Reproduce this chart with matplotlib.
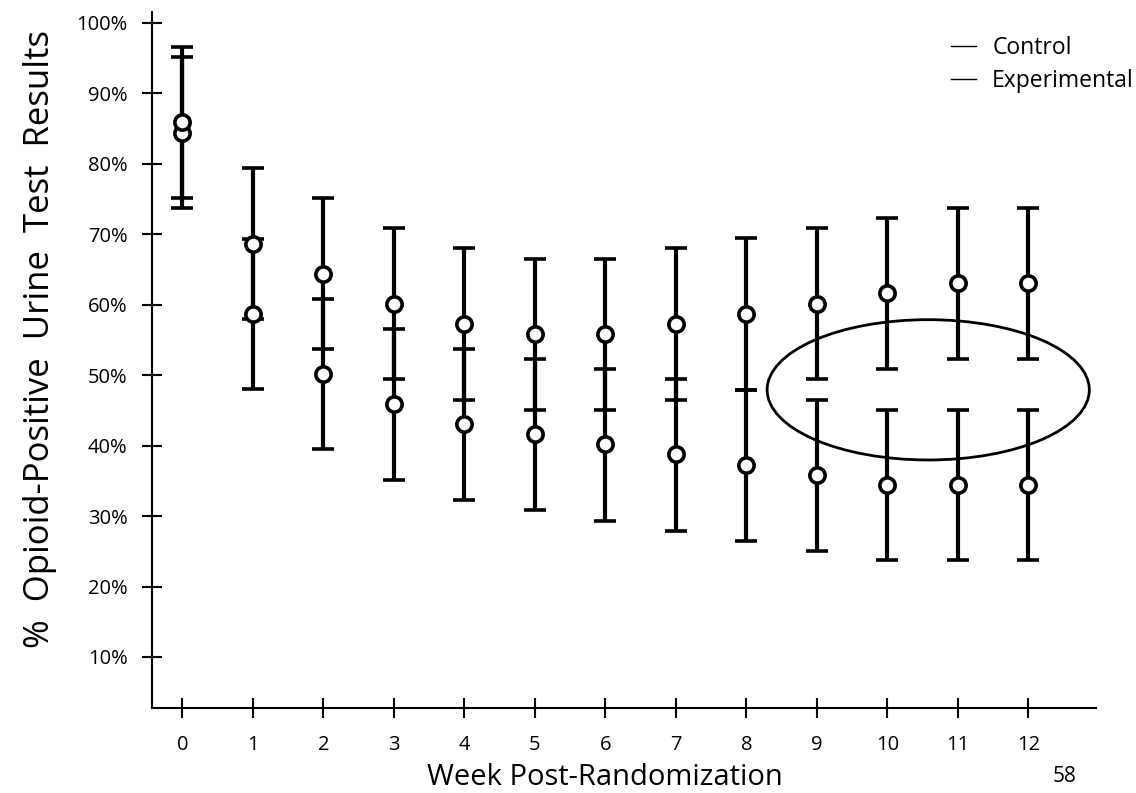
import numpy as np
import matplotlib
matplotlib.use("Agg")
import matplotlib.pyplot as plt
from matplotlib.lines import Line2D
from matplotlib.patches import Ellipse

plt.rcParams['font.family'] = ['Open Sans', 'DejaVu Sans']

weeks = np.arange(13)
week_labels = [str(w) for w in weeks]

# control group (upper series in later weeks)
control = [84.4, 68.6, 64.4, 60.1, 57.3, 55.8, 55.8, 57.3, 58.7, 60.1, 61.6, 63.0, 63.0]
control_lo = [73.7, 58.0, 53.7, 49.4, 46.5, 45.0, 45.0, 46.5, 47.9, 49.4, 50.9, 52.3, 52.3]
control_hi = [95.1, 79.3, 75.1, 70.8, 68.0, 66.5, 66.5, 68.0, 69.4, 70.8, 72.3, 73.7, 73.7]

# experimental group
experimental = [85.9, 58.7, 50.2, 45.9, 43.0, 41.6, 40.2, 38.8, 37.3, 35.8, 34.4, 34.4, 34.4]
experimental_lo = [75.1, 48.0, 39.5, 35.1, 32.3, 30.8, 29.3, 27.9, 26.5, 25.0, 23.7, 23.7, 23.7]
experimental_hi = [96.5, 69.3, 60.8, 56.5, 53.7, 52.3, 50.9, 49.5, 47.9, 46.5, 45.0, 45.0, 45.0]

y_ticks = [10, 20, 30, 40, 50, 60, 70, 80, 90, 100]
y_tick_labels = ['%d%%' % t for t in y_ticks]

fig = plt.figure(figsize=(11.36, 7.93), dpi=100)
ax = fig.add_axes([0.1338, 0.1075, 0.831, 0.8774])

def draw(vals, lo, hi, label):
    vals = np.array(vals)
    err = [vals - np.array(lo), np.array(hi) - vals]
    ax.errorbar(weeks, vals, yerr=err, fmt='o', color='black', ecolor='black',
                mfc='white', mec='black', ms=11, mew=2.6,
                elinewidth=3, capsize=8, capthick=3, label=label, zorder=3)

draw(control, control_lo, control_hi, 'Control')
draw(experimental, experimental_lo, experimental_hi, 'Experimental')

# highlight of the later weeks
ax.add_patch(Ellipse((10.58, 47.9), 4.57, 19.9, fill=False, lw=2, ec='black', zorder=4))

ax.set_xlim(-0.43, 12.96)
ax.set_ylim(2.8, 101.5)
ax.set_xticks(weeks)
ax.set_xticklabels(week_labels)
ax.set_yticks(y_ticks)
ax.set_yticklabels(y_tick_labels)

for s in ['top', 'right']:
    ax.spines[s].set_visible(False)
for s in ['left', 'bottom']:
    ax.spines[s].set_linewidth(1.5)
ax.tick_params(axis='both', direction='inout', length=15, width=1.5, labelsize=14.5, pad=10)
ax.tick_params(axis='x', pad=12)

ax.set_ylabel('%  Opioid-Positive  Urine  Test  Results', fontsize=25, labelpad=14)
ax.yaxis.label.set_y(0.53)
ax.set_xlabel('Week Post-Randomization', fontsize=21, labelpad=6)
ax.xaxis.label.set_x(0.48)

handles = [Line2D([], [], color='black', lw=1), Line2D([], [], color='black', lw=1)]
ax.legend(handles, ['Control', 'Experimental'], loc='upper right',
          bbox_to_anchor=(1134 / 1136, 1 - 36 / 793), bbox_transform=fig.transFigure,
          frameon=False, fontsize=16.5, handlelength=1.1, handletextpad=0.7,
          labelspacing=0.4, borderpad=0, borderaxespad=0)

fig.text(1065 / 1136, 1 - 777 / 793, '58', fontsize=15, ha='center', va='center')

fig.savefig('out.png', dpi=100)
